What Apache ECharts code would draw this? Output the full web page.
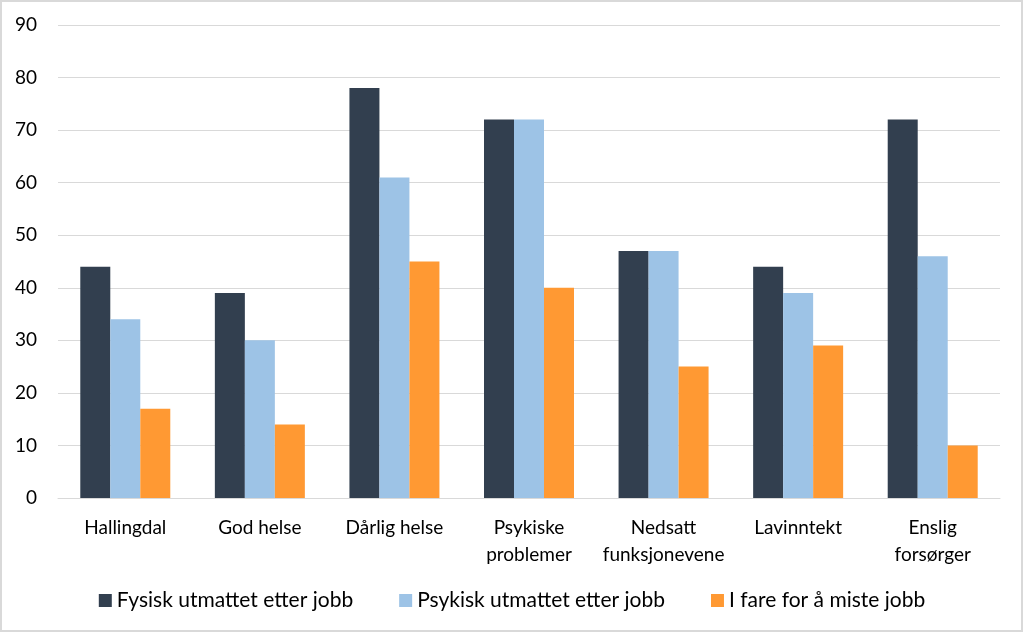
<!DOCTYPE html>
<html><head><meta charset="utf-8">
<script src="https://cdn.jsdelivr.net/npm/echarts@6/dist/echarts.min.js"></script>
<style>html,body{margin:0;padding:0;background:#fff}#c{width:1024px;height:633px}</style>
</head><body><div id="c"></div>
<script>
const categories = ['Hallingdal', 'God helse', 'Dårlig helse', 'Psykiske\nproblemer', 'Nedsatt\nfunksjonevene', 'Lavinntekt', 'Enslig\nforsørger'];
const seriesNames = ['Fysisk utmattet etter jobb', 'Psykisk utmattet etter jobb', 'I fare for å miste jobb'];
const fysisk = [44, 39, 78, 72, 47, 44, 72];
const psykisk = [34, 30, 61, 72, 47, 39, 46];
const fare = [17, 14, 45, 40, 25, 29, 10];
const colors = ['#323F4F', '#9DC3E6', '#FF9933'];
const font = 'Lato, "Open Sans", sans-serif';
const chart = echarts.init(document.getElementById('c'), null, {renderer: 'canvas'});
const data = [fysisk, psykisk, fare];
chart.setOption({
  animation: false,
  color: colors,
  graphic: [{type: 'rect', shape: {x: 1, y: 1, width: 1021, height: 630}, style: {fill: 'none', stroke: '#d9d9d9', lineWidth: 2}}],
  grid: {left: 58, right: 24, top: 25, bottom: 135},
  legend: {
    top: 585, left: 'center', itemWidth: 13, itemHeight: 13, itemGap: 46,
    icon: 'rect',
    textStyle: {fontFamily: font, fontSize: 21, color: '#000'}
  },
  xAxis: {
    type: 'category', data: categories,
    axisLine: {lineStyle: {color: '#d9d9d9', width: 1}},
    axisTick: {show: false},
    axisLabel: {fontFamily: font, fontSize: 19, color: '#000', margin: 16, lineHeight: 27, interval: 0}
  },
  yAxis: {
    type: 'value', min: 0, max: 90, interval: 10,
    axisLine: {show: false}, axisTick: {show: false},
    splitLine: {lineStyle: {color: '#d9d9d9', width: 1}},
    axisLabel: {fontFamily: font, fontSize: 19, color: '#000', margin: 21}
  },
  series: seriesNames.map((n, i) => ({
    name: n, type: 'bar', data: data[i], barWidth: 30, barGap: '0%'
  }))
});
</script></body></html>
